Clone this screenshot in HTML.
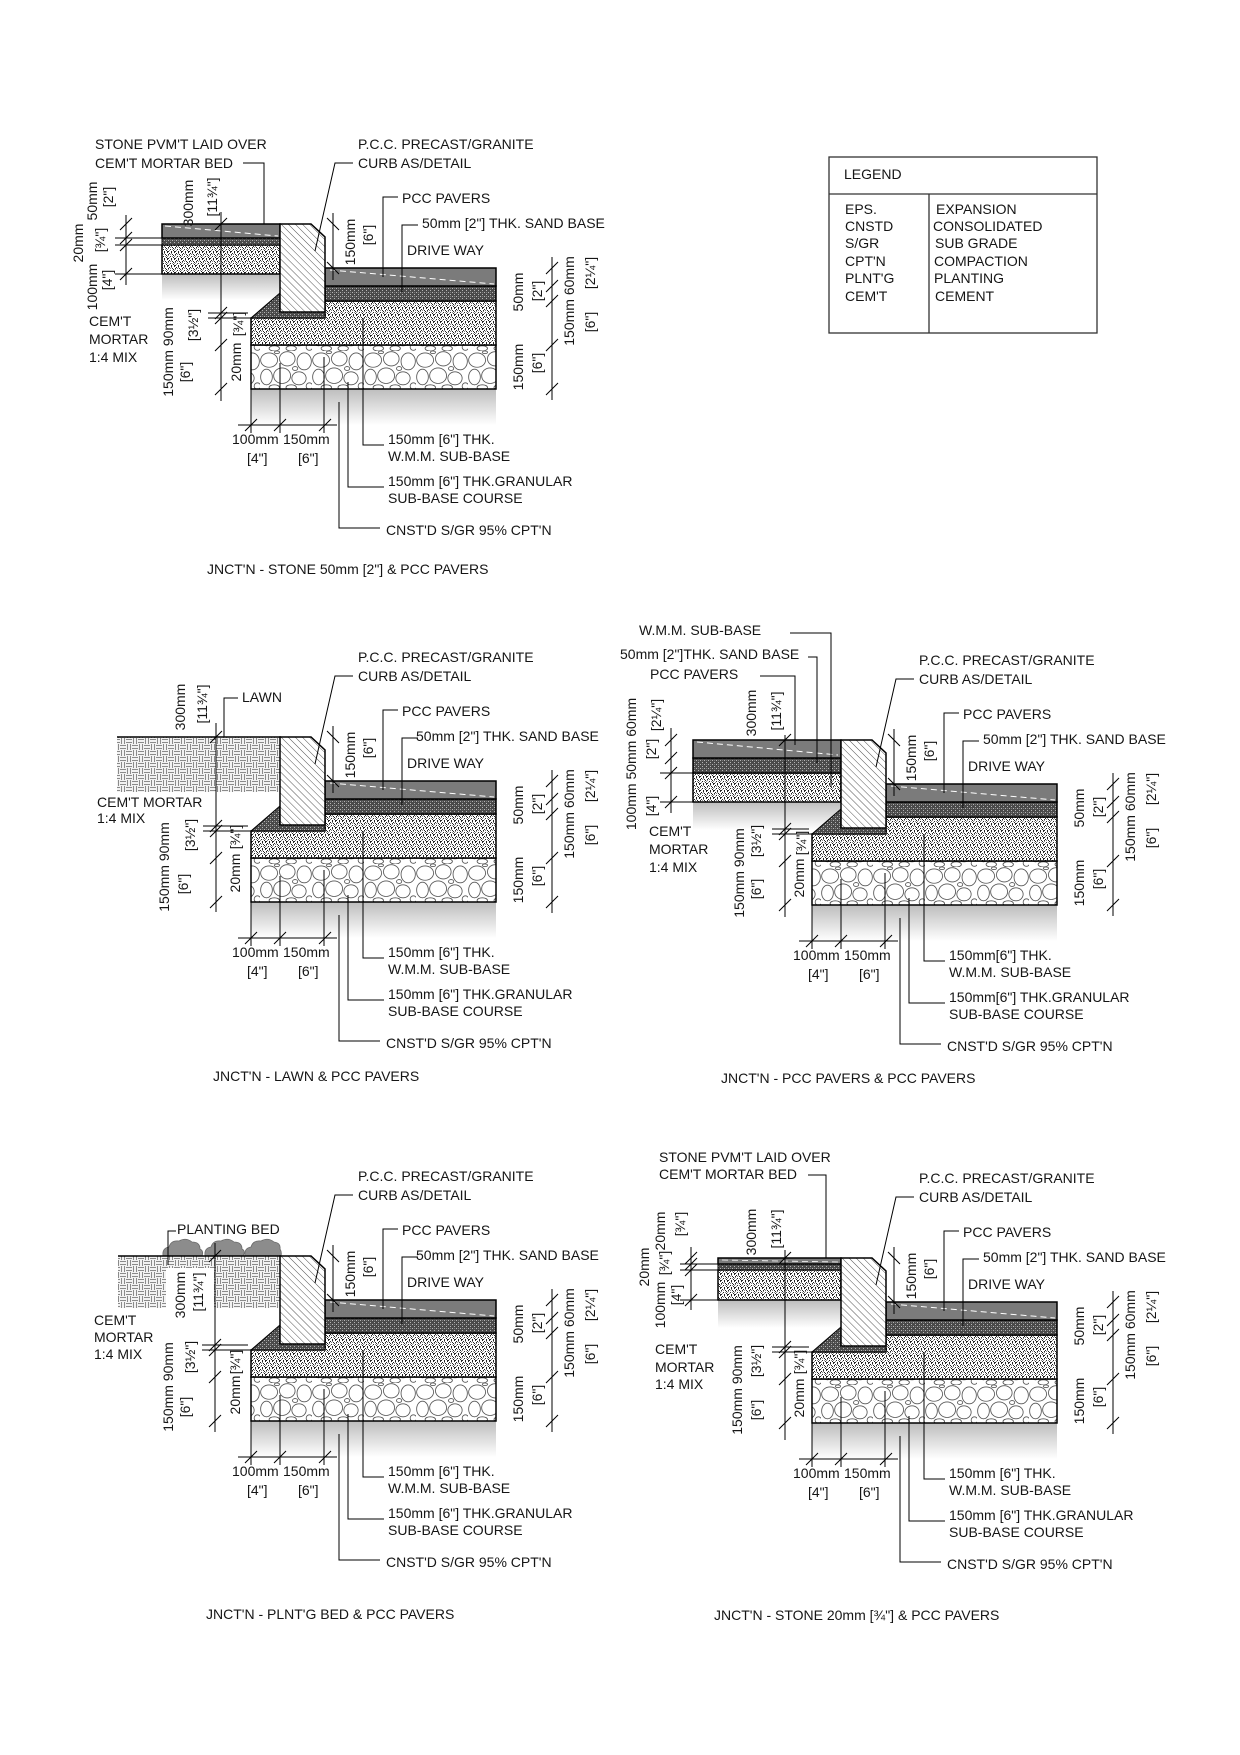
<!DOCTYPE html>
<html>
<head>
<meta charset="utf-8">
<style>
html,body{margin:0;padding:0;background:#fff;}
svg{display:block;}
text{font-family:"Liberation Sans",Arial,sans-serif;font-size:14px;fill:#151515;}
.r{text-anchor:middle;}
</style>
</head>
<body>
<svg width="1240" height="1755" viewBox="0 0 1240 1755" xmlns="http://www.w3.org/2000/svg">
<defs>
  <pattern id="ls" width="7" height="7" patternUnits="userSpaceOnUse">
    <rect width="7" height="7" fill="#fff"/>
    <path d="M1 1h1v1h-1z M4 2h1v1h-1z M2 4h1v1h-1z M5 5h1v1h-1z M6 0h1v1h-1z M0 6h1v1h-1z M3 6h1v1h-1z M5 3h1v1h-1z M0 2h1v1h-1z M3 0h1v1h-1z M6 6h1v1h-1z" fill="#222"/>
    <path d="M3 1h1v1h-1z M0 3h1v1h-1z M6 4h1v1h-1z M2 2h1v1h-1z M4 4h1v1h-1z M1 5h1v1h-1z" fill="#888"/>
  </pattern>
  <pattern id="ds" width="4" height="4" patternUnits="userSpaceOnUse">
    <rect width="4" height="4" fill="#4a4a4a"/>
    <path d="M0 0h1v1h-1z M2 2h1v1h-1z" fill="#b5b5b5"/>
    <path d="M2 0h1v1h-1z" fill="#7a7a7a"/>
  </pattern>
  <pattern id="cb" width="40" height="30" patternUnits="userSpaceOnUse" patternTransform="scale(1.3)">
    <rect width="40" height="30" fill="#fff"/>
    <g fill="none" stroke="#555" stroke-width="0.65">
      <ellipse cx="7" cy="7" rx="6.5" ry="5.5"/>
      <ellipse cx="21" cy="6" rx="6" ry="5.5"/>
      <ellipse cx="34" cy="8" rx="5.5" ry="6.5"/>
      <ellipse cx="5" cy="20" rx="4.5" ry="6"/>
      <ellipse cx="17" cy="19" rx="6.5" ry="6"/>
      <ellipse cx="30" cy="21" rx="5.5" ry="5"/>
      <ellipse cx="38" cy="27" rx="2.5" ry="2.5"/>
      <ellipse cx="11" cy="28" rx="4" ry="2"/>
      <ellipse cx="24" cy="28" rx="4" ry="2"/>
      <ellipse cx="13" cy="1" rx="2" ry="1"/>
      <ellipse cx="27" cy="13.5" rx="2" ry="1.5"/>
    </g>
  </pattern>
  <pattern id="ht" width="5" height="5" patternUnits="userSpaceOnUse" patternTransform="rotate(-45)">
    <rect width="5" height="5" fill="#fff"/>
    <line x1="0" y1="0" x2="0" y2="5" stroke="#555" stroke-width="1"/>
  </pattern>
  <pattern id="lw" width="12" height="12" patternUnits="userSpaceOnUse">
    <rect width="12" height="12" fill="#f2f2f2"/>
    <g stroke="#8a8a8a" stroke-width="1" fill="none">
      <path d="M0 1.5H6 M0 4.5H6 M7.5 0V6 M10.5 0V6 M1.5 6V12 M4.5 6V12 M6 7.5H12 M6 10.5H12"/>
    </g>
  </pattern>
  <linearGradient id="sg" x1="0" y1="0" x2="0" y2="1">
    <stop offset="0" stop-color="#bdbdbd"/>
    <stop offset="1" stop-color="#ffffff"/>
  </linearGradient>

  <g id="cm">
    <rect x="251" y="389" width="245" height="36" fill="url(#sg)"/>
    <rect x="251" y="345" width="245" height="44" fill="url(#cb)" stroke="#000" stroke-width="1.5"/>
    <polygon points="251,318 325,318 325,301 496,301 496,345 251,345" fill="url(#ls)" stroke="#000" stroke-width="1.5"/>
    <polygon points="251,318 280,293 280,312 325,312 325,318" fill="url(#ds)" stroke="#000" stroke-width="1"/>
    <rect x="325" y="286" width="171" height="15" fill="url(#ds)" stroke="#000" stroke-width="1.5"/>
    <rect x="325" y="268" width="171" height="18" fill="#7b7b7b" stroke="#000" stroke-width="1.5"/>
    <line x1="330" y1="270" x2="494" y2="284" stroke="#fff" stroke-dasharray="6,4" stroke-width="1"/>
    <polygon points="280,224 311,224 325,237 325,312 280,312" fill="url(#ht)" stroke="#000" stroke-width="1.5"/>
    <path fill="none" stroke="#000" stroke-width="1"
      d="M333 213V280 M327 218L339 230 M327 262L339 274
         M552 257V400 M546 274L558 262 M546 292L558 280 M546 307L558 295 M546 351L558 339 M546 395L558 383
         M238 425H337 M245 431L257 419 M274 431L286 419 M319 431L331 419 M251 389V433 M280 363V433 M324 357V433
         M363 318V445H384 M348 382V487H384 M339 402V528H380
         M398 197H383V277 M418 225H402V292 M353 163H335L315 251"/>
  </g>
</defs>

<!-- LEGEND -->
<rect x="829" y="157" width="268" height="176" fill="none" stroke="#333" stroke-width="1.3"/>
<line x1="829" y1="194" x2="1097" y2="194" stroke="#333" stroke-width="1.3"/>
<line x1="929" y1="194" x2="929" y2="333" stroke="#333" stroke-width="1.3"/>
<text x="844" y="179">LEGEND</text>
<text x="845" y="214">EPS.</text>
<text x="845" y="231">CNSTD</text>
<text x="845" y="248">S/GR</text>
<text x="845" y="266">CPT'N</text>
<text x="845" y="283">PLNT'G</text>
<text x="845" y="301">CEM'T</text>
<text x="936" y="214">EXPANSION</text>
<text x="933" y="231">CONSOLIDATED</text>
<text x="935" y="248">SUB GRADE</text>
<text x="934" y="266">COMPACTION</text>
<text x="934" y="283">PLANTING</text>
<text x="935" y="301">CEMENT</text>

<!-- ============ DIAGRAM 1 ============ -->
<rect x="162" y="274" width="118" height="26" fill="url(#sg)"/>
<rect x="162" y="245" width="118" height="29" fill="url(#ls)" stroke="#000" stroke-width="1.5"/>
<rect x="162" y="238" width="118" height="7" fill="url(#ds)" stroke="#000" stroke-width="1"/>
<rect x="162" y="224" width="118" height="14" fill="#7b7b7b" stroke="#000" stroke-width="1.5"/>
<line x1="165" y1="226" x2="278" y2="236" stroke="#fff" stroke-dasharray="6,4" stroke-width="1"/>
<use href="#cm"/>
<path fill="none" stroke="#000" stroke-width="1"
  d="M126 215V285 M120 230L132 218 M120 244L132 232 M120 251L132 239 M120 280L132 268 M115 238H162 M115 245H162 M115 274H162
     M221 212V401 M215 230L227 218 M215 319L227 307 M215 324L227 312 M215 351L227 339 M215 395L227 383 M208 313H248 M208 318H251
     M243 163H264V224"/>
<text x="95" y="149">STONE PVM'T LAID OVER</text>
<text x="95" y="168">CEM'T MORTAR BED</text>
<text x="89" y="326">CEM'T</text>
<text x="89" y="344">MORTAR</text>
<text x="89" y="362">1:4 MIX</text>
<text class="r" transform="translate(97,201) rotate(-90)">50mm</text>
<text class="r" transform="translate(113,197) rotate(-90)">[2"]</text>
<text class="r" transform="translate(83,243) rotate(-90)">20mm</text>
<text class="r" transform="translate(105,240) rotate(-90)">[¾"]</text>
<text class="r" transform="translate(97,287) rotate(-90)">100mm</text>
<text class="r" transform="translate(112,280) rotate(-90)">[4"]</text>
<text class="r" transform="translate(193,203) rotate(-90)">300mm</text>
<text class="r" transform="translate(217,197) rotate(-90)">[11¾"]</text>
<text class="r" transform="translate(173,352) rotate(-90)">150mm 90mm</text>
<text class="r" transform="translate(190,372) rotate(-90)">[6"]</text>
<text class="r" transform="translate(198,325) rotate(-90)">[3½"]</text>
<text class="r" transform="translate(243,324) rotate(-90)">[¾"]</text>
<text class="r" transform="translate(241,362) rotate(-90)">20mm</text>
<text x="207" y="574">JNCT'N - STONE 50mm [2"] &amp; PCC PAVERS</text>
<g>
  <text x="358" y="149">P.C.C. PRECAST/GRANITE</text>
  <text x="358" y="168">CURB AS/DETAIL</text>
  <text x="402" y="203">PCC PAVERS</text>
  <text x="422" y="228">50mm [2"] THK. SAND BASE</text>
  <text x="407" y="255">DRIVE WAY</text>
  <text class="r" transform="translate(355,242) rotate(-90)">150mm</text>
  <text class="r" transform="translate(373,235) rotate(-90)">[6"]</text>
  <text class="r" transform="translate(523,292) rotate(-90)">50mm</text>
  <text class="r" transform="translate(542,291) rotate(-90)">[2"]</text>
  <text class="r" transform="translate(523,367) rotate(-90)">150mm</text>
  <text class="r" transform="translate(542,363) rotate(-90)">[6"]</text>
  <text class="r" transform="translate(574,301) rotate(-90)">150mm 60mm</text>
  <text class="r" transform="translate(595,273) rotate(-90)">[2¼"]</text>
  <text class="r" transform="translate(595,322) rotate(-90)">[6"]</text>
  <text x="232" y="444">100mm</text>
  <text x="283" y="444">150mm</text>
  <text x="247" y="463">[4"]</text>
  <text x="298" y="463">[6"]</text>
  <text x="388" y="444">150mm [6"] THK.</text>
  <text x="388" y="461">W.M.M. SUB-BASE</text>
  <text x="388" y="486">150mm [6"] THK.GRANULAR</text>
  <text x="388" y="503">SUB-BASE COURSE</text>
  <text x="386" y="535">CNST'D S/GR 95% CPT'N</text>
</g>

<!-- ============ DIAGRAM 2 (LAWN) ============ -->
<rect x="117" y="737" width="164" height="55" fill="url(#lw)"/>
<line x1="117" y1="737" x2="281" y2="737" stroke="#000" stroke-width="1.5"/>
<use href="#cm" transform="translate(0,513)"/>
<path fill="none" stroke="#000" stroke-width="1"
  d="M216 723V912 M210 743L222 731 M210 832L222 820 M210 837L222 825 M210 864L222 852 M210 908L222 896 M203 826H248 M203 831H251
     M238 698H224V737"/>
<text x="242" y="702">LAWN</text>
<text x="97" y="807">CEM'T MORTAR</text>
<text x="97" y="823">1:4 MIX</text>
<text class="r" transform="translate(185,707) rotate(-90)">300mm</text>
<text class="r" transform="translate(207,704) rotate(-90)">[11¾"]</text>
<text class="r" transform="translate(169,867) rotate(-90)">150mm 90mm</text>
<text class="r" transform="translate(188,884) rotate(-90)">[6"]</text>
<text class="r" transform="translate(195,835) rotate(-90)">[3½"]</text>
<text class="r" transform="translate(240,837) rotate(-90)">[¾"]</text>
<text class="r" transform="translate(240,873) rotate(-90)">20mm</text>
<text x="213" y="1081">JNCT'N - LAWN &amp; PCC PAVERS</text>
<g transform="translate(0,513)">
  <text x="358" y="149">P.C.C. PRECAST/GRANITE</text>
  <text x="358" y="168">CURB AS/DETAIL</text>
  <text x="402" y="203">PCC PAVERS</text>
  <text x="416" y="228">50mm [2"] THK. SAND BASE</text>
  <text x="407" y="255">DRIVE WAY</text>
  <text class="r" transform="translate(355,242) rotate(-90)">150mm</text>
  <text class="r" transform="translate(373,235) rotate(-90)">[6"]</text>
  <text class="r" transform="translate(523,292) rotate(-90)">50mm</text>
  <text class="r" transform="translate(542,291) rotate(-90)">[2"]</text>
  <text class="r" transform="translate(523,367) rotate(-90)">150mm</text>
  <text class="r" transform="translate(542,363) rotate(-90)">[6"]</text>
  <text class="r" transform="translate(574,301) rotate(-90)">150mm 60mm</text>
  <text class="r" transform="translate(595,273) rotate(-90)">[2¼"]</text>
  <text class="r" transform="translate(595,322) rotate(-90)">[6"]</text>
  <text x="232" y="444">100mm</text>
  <text x="283" y="444">150mm</text>
  <text x="247" y="463">[4"]</text>
  <text x="298" y="463">[6"]</text>
  <text x="388" y="444">150mm [6"] THK.</text>
  <text x="388" y="461">W.M.M. SUB-BASE</text>
  <text x="388" y="486">150mm [6"] THK.GRANULAR</text>
  <text x="388" y="503">SUB-BASE COURSE</text>
  <text x="386" y="535">CNST'D S/GR 95% CPT'N</text>
</g>

<!-- ============ DIAGRAM 3 (PCC & PCC) ============ -->
<rect x="693" y="802" width="148" height="28" fill="url(#sg)"/>
<rect x="693" y="773" width="148" height="29" fill="url(#ls)" stroke="#000" stroke-width="1.5"/>
<rect x="693" y="758" width="148" height="15" fill="url(#ds)" stroke="#000" stroke-width="1.5"/>
<rect x="693" y="740" width="148" height="18" fill="#7b7b7b" stroke="#000" stroke-width="1.5"/>
<line x1="697" y1="742" x2="838" y2="755" stroke="#fff" stroke-dasharray="6,4" stroke-width="1"/>
<use href="#cm" transform="translate(561,516)"/>
<path fill="none" stroke="#000" stroke-width="1"
  d="M671 728V813 M665 746L677 734 M665 764L677 752 M665 779L677 767 M665 808L677 796 M660 773H693 M660 802H693
     M785 735V917 M779 746L791 734 M779 835L791 823 M779 840L791 828 M779 867L791 855 M779 911L791 899 M772 829H809 M772 834H812
     M790 633H831V787 M808 657H817V763 M760 676H795V745"/>
<text x="639" y="635">W.M.M. SUB-BASE</text>
<text x="620" y="659">50mm [2"]THK. SAND BASE</text>
<text x="650" y="679">PCC PAVERS</text>
<text x="649" y="836">CEM'T</text>
<text x="649" y="854">MORTAR</text>
<text x="649" y="872">1:4 MIX</text>
<text class="r" transform="translate(636,764) rotate(-90)">100mm 50mm 60mm</text>
<text class="r" transform="translate(656,806) rotate(-90)">[4"]</text>
<text class="r" transform="translate(656,749) rotate(-90)">[2"]</text>
<text class="r" transform="translate(661,715) rotate(-90)">[2¼"]</text>
<text class="r" transform="translate(756,713) rotate(-90)">300mm</text>
<text class="r" transform="translate(781,711) rotate(-90)">[11¾"]</text>
<text class="r" transform="translate(744,873) rotate(-90)">150mm 90mm</text>
<text class="r" transform="translate(761,889) rotate(-90)">[6"]</text>
<text class="r" transform="translate(761,841) rotate(-90)">[3½"]</text>
<text class="r" transform="translate(806,843) rotate(-90)">[¾"]</text>
<text class="r" transform="translate(804,878) rotate(-90)">20mm</text>
<text x="721" y="1083">JNCT'N - PCC PAVERS &amp; PCC PAVERS</text>
<g transform="translate(561,516)">
  <text x="358" y="149">P.C.C. PRECAST/GRANITE</text>
  <text x="358" y="168">CURB AS/DETAIL</text>
  <text x="402" y="203">PCC PAVERS</text>
  <text x="422" y="228">50mm [2"] THK. SAND BASE</text>
  <text x="407" y="255">DRIVE WAY</text>
  <text class="r" transform="translate(355,242) rotate(-90)">150mm</text>
  <text class="r" transform="translate(373,235) rotate(-90)">[6"]</text>
  <text class="r" transform="translate(523,292) rotate(-90)">50mm</text>
  <text class="r" transform="translate(542,291) rotate(-90)">[2"]</text>
  <text class="r" transform="translate(523,367) rotate(-90)">150mm</text>
  <text class="r" transform="translate(542,363) rotate(-90)">[6"]</text>
  <text class="r" transform="translate(574,301) rotate(-90)">150mm 60mm</text>
  <text class="r" transform="translate(595,273) rotate(-90)">[2¼"]</text>
  <text class="r" transform="translate(595,322) rotate(-90)">[6"]</text>
  <text x="232" y="444">100mm</text>
  <text x="283" y="444">150mm</text>
  <text x="247" y="463">[4"]</text>
  <text x="298" y="463">[6"]</text>
  <text x="388" y="444">150mm[6"] THK.</text>
  <text x="388" y="461">W.M.M. SUB-BASE</text>
  <text x="388" y="486">150mm[6"] THK.GRANULAR</text>
  <text x="388" y="503">SUB-BASE COURSE</text>
  <text x="386" y="535">CNST'D S/GR 95% CPT'N</text>
</g>

<!-- ============ DIAGRAM 4 (PLANTING BED) ============ -->
<rect x="118" y="1256" width="163" height="52" fill="url(#lw)"/>
<rect x="166" y="1268" width="48" height="40" fill="#fff"/>
<g fill="#8c8c8c" stroke="#6a6a6a" stroke-width="0.8">
  <path d="M163 1256 Q162 1248 169 1247 Q171 1240 179 1241 Q186 1237 192 1242 Q200 1242 200 1249 Q204 1251 202 1256 Z"/>
  <path d="M205 1256 Q204 1248 211 1247 Q213 1240 221 1241 Q228 1237 234 1242 Q242 1242 242 1249 Q246 1251 243 1256 Z"/>
  <path d="M245 1256 Q244 1248 251 1247 Q253 1240 261 1241 Q268 1237 274 1242 Q281 1243 280 1249 Q282 1252 281 1256 Z"/>
</g>
<line x1="118" y1="1256" x2="281" y2="1256" stroke="#000" stroke-width="1.5"/>
<use href="#cm" transform="translate(0,1032)"/>
<path fill="none" stroke="#000" stroke-width="1"
  d="M215 1243V1432 M209 1262L221 1250 M209 1351L221 1339 M209 1356L221 1344 M209 1383L221 1371 M209 1427L221 1415 M202 1345H248 M202 1350H251
     M176 1231H168V1265"/>
<text x="177" y="1234">PLANTING BED</text>
<text x="94" y="1325">CEM'T</text>
<text x="94" y="1342">MORTAR</text>
<text x="94" y="1359">1:4 MIX</text>
<text class="r" transform="translate(185,1295) rotate(-90)">300mm</text>
<text class="r" transform="translate(203,1292) rotate(-90)">[11¾"]</text>
<text class="r" transform="translate(173,1387) rotate(-90)">150mm  90mm</text>
<text class="r" transform="translate(190,1407) rotate(-90)">[6"]</text>
<text class="r" transform="translate(195,1357) rotate(-90)">[3½"]</text>
<text class="r" transform="translate(240,1362) rotate(-90)">[¾"]</text>
<text class="r" transform="translate(240,1395) rotate(-90)">20mm</text>
<text x="206" y="1619">JNCT'N - PLNT'G BED &amp; PCC PAVERS</text>
<g transform="translate(0,1032)">
  <text x="358" y="149">P.C.C. PRECAST/GRANITE</text>
  <text x="358" y="168">CURB AS/DETAIL</text>
  <text x="402" y="203">PCC PAVERS</text>
  <text x="416" y="228">50mm [2"] THK. SAND BASE</text>
  <text x="407" y="255">DRIVE WAY</text>
  <text class="r" transform="translate(355,242) rotate(-90)">150mm</text>
  <text class="r" transform="translate(373,235) rotate(-90)">[6"]</text>
  <text class="r" transform="translate(523,292) rotate(-90)">50mm</text>
  <text class="r" transform="translate(542,291) rotate(-90)">[2"]</text>
  <text class="r" transform="translate(523,367) rotate(-90)">150mm</text>
  <text class="r" transform="translate(542,363) rotate(-90)">[6"]</text>
  <text class="r" transform="translate(574,301) rotate(-90)">150mm 60mm</text>
  <text class="r" transform="translate(595,273) rotate(-90)">[2¼"]</text>
  <text class="r" transform="translate(595,322) rotate(-90)">[6"]</text>
  <text x="232" y="444">100mm</text>
  <text x="283" y="444">150mm</text>
  <text x="247" y="463">[4"]</text>
  <text x="298" y="463">[6"]</text>
  <text x="388" y="444">150mm [6"] THK.</text>
  <text x="388" y="461">W.M.M. SUB-BASE</text>
  <text x="388" y="486">150mm [6"] THK.GRANULAR</text>
  <text x="388" y="503">SUB-BASE COURSE</text>
  <text x="386" y="535">CNST'D S/GR 95% CPT'N</text>
</g>

<!-- ============ DIAGRAM 5 (STONE 20mm) ============ -->
<rect x="718" y="1300" width="123" height="28" fill="url(#sg)"/>
<rect x="718" y="1270" width="123" height="30" fill="url(#ls)" stroke="#000" stroke-width="1.5"/>
<rect x="718" y="1264" width="123" height="6" fill="url(#ds)" stroke="#000" stroke-width="1"/>
<rect x="718" y="1258" width="123" height="6" fill="#7b7b7b" stroke="#000" stroke-width="1.5"/>
<line x1="722" y1="1260" x2="838" y2="1262" stroke="#fff" stroke-dasharray="6,4" stroke-width="0.8"/>
<use href="#cm" transform="translate(561,1034)"/>
<path fill="none" stroke="#000" stroke-width="1"
  d="M691 1247V1310 M685 1264L697 1252 M685 1270L697 1258 M685 1276L697 1264 M685 1306L697 1294 M680 1264H718 M680 1270H718 M680 1300H718
     M785 1250V1440 M779 1264L791 1252 M779 1353L791 1341 M779 1358L791 1346 M779 1385L791 1373 M779 1429L791 1417 M772 1347H809 M772 1352H812
     M808 1175H826V1258"/>
<text x="659" y="1162">STONE PVM'T LAID OVER</text>
<text x="659" y="1179">CEM'T MORTAR BED</text>
<text x="655" y="1354">CEM'T</text>
<text x="655" y="1372">MORTAR</text>
<text x="655" y="1389">1:4 MIX</text>
<text class="r" transform="translate(649,1267) rotate(-90)">20mm</text>
<text class="r" transform="translate(665,1231) rotate(-90)">20mm</text>
<text class="r" transform="translate(685,1224) rotate(-90)">[¾"]</text>
<text class="r" transform="translate(669,1263) rotate(-90)">[¾"]</text>
<text class="r" transform="translate(665,1305) rotate(-90)">100mm</text>
<text class="r" transform="translate(681,1295) rotate(-90)">[4"]</text>
<text class="r" transform="translate(756,1232) rotate(-90)">300mm</text>
<text class="r" transform="translate(781,1229) rotate(-90)">[11¾"]</text>
<text class="r" transform="translate(742,1390) rotate(-90)">150mm  90mm</text>
<text class="r" transform="translate(761,1410) rotate(-90)">[6"]</text>
<text class="r" transform="translate(761,1361) rotate(-90)">[3½"]</text>
<text class="r" transform="translate(804,1362) rotate(-90)">[¾"]</text>
<text class="r" transform="translate(804,1398) rotate(-90)">20mm</text>
<text x="714" y="1620">JNCT'N - STONE 20mm [¾"] &amp; PCC PAVERS</text>
<g transform="translate(561,1034)">
  <text x="358" y="149">P.C.C. PRECAST/GRANITE</text>
  <text x="358" y="168">CURB AS/DETAIL</text>
  <text x="402" y="203">PCC PAVERS</text>
  <text x="422" y="228">50mm [2"] THK. SAND BASE</text>
  <text x="407" y="255">DRIVE WAY</text>
  <text class="r" transform="translate(355,242) rotate(-90)">150mm</text>
  <text class="r" transform="translate(373,235) rotate(-90)">[6"]</text>
  <text class="r" transform="translate(523,292) rotate(-90)">50mm</text>
  <text class="r" transform="translate(542,291) rotate(-90)">[2"]</text>
  <text class="r" transform="translate(523,367) rotate(-90)">150mm</text>
  <text class="r" transform="translate(542,363) rotate(-90)">[6"]</text>
  <text class="r" transform="translate(574,301) rotate(-90)">150mm 60mm</text>
  <text class="r" transform="translate(595,273) rotate(-90)">[2¼"]</text>
  <text class="r" transform="translate(595,322) rotate(-90)">[6"]</text>
  <text x="232" y="444">100mm</text>
  <text x="283" y="444">150mm</text>
  <text x="247" y="463">[4"]</text>
  <text x="298" y="463">[6"]</text>
  <text x="388" y="444">150mm [6"] THK.</text>
  <text x="388" y="461">W.M.M. SUB-BASE</text>
  <text x="388" y="486">150mm [6"] THK.GRANULAR</text>
  <text x="388" y="503">SUB-BASE COURSE</text>
  <text x="386" y="535">CNST'D S/GR 95% CPT'N</text>
</g>
</svg>
</body>
</html>
